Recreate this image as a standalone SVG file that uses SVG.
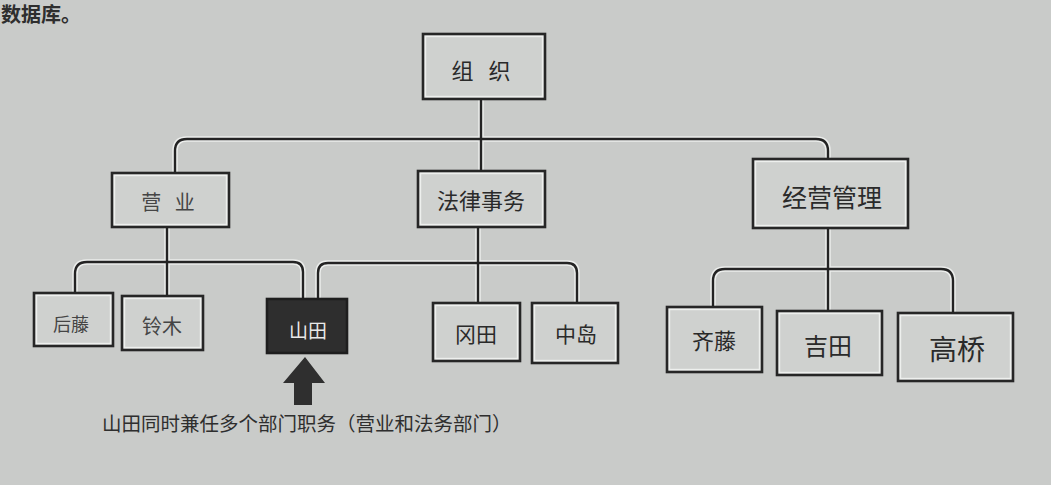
<svg xmlns="http://www.w3.org/2000/svg" width="1051" height="485" viewBox="0 0 1051 485">
<style>
.bg{fill:#c9cbc9}
.box{fill:#cfd1cf;stroke:#262626;stroke-width:2.6}
.inner{fill:none;stroke:#eef0ee;stroke-width:1.4}
.dark{fill:#2e2e2e;stroke:#1e1e1e;stroke-width:2.6}
.halo{fill:none;stroke:#eceeec;stroke-width:5.5;stroke-linejoin:round}
.line{fill:none;stroke:#232323;stroke-width:2.4;stroke-linejoin:round}
.t{font-family:"Noto Sans CJK SC","Noto Sans",sans-serif;fill:#2a2a2a;text-anchor:middle;dominant-baseline:central}
.tl{fill:#454545}
.tw{fill:#e8e8e8}
.cap{font-family:"Noto Sans CJK SC","Noto Sans",sans-serif;fill:#2e2e2e}
</style>
<rect class="bg" x="0" y="0" width="1051" height="485"/>
<text class="cap" x="1" y="22" font-size="20" font-weight="bold">数据库。</text>

<g id="connectors">
  <path class="halo" d="M481 99 V171 M175 173 V151 Q175 139 187 139 H816 Q828 139 828 151 V159 M167 227 V296 M75 293 V274 Q75 262 87 262 H293 Q303 262 303 272 V299 M318 299 V273 Q318 263 328 263 H567 Q577 263 577 273 V303 M478 227 V303 M828 228 V311 M713 307 V281 Q713 269 725 269 H941 Q953 269 953 281 V313"/>
  <path class="line" d="M481 99 V171 M175 173 V151 Q175 139 187 139 H816 Q828 139 828 151 V159 M167 227 V296 M75 293 V274 Q75 262 87 262 H293 Q303 262 303 272 V299 M318 299 V273 Q318 263 328 263 H567 Q577 263 577 273 V303 M478 227 V303 M828 228 V311 M713 307 V281 Q713 269 725 269 H941 Q953 269 953 281 V313"/>
</g>

<g id="node-org">
  <rect class="box" x="423" y="34" width="122" height="65"/>
  <rect class="inner" x="425.5" y="36.5" width="117" height="60"/>
  <text class="t" x="481" y="69" font-size="22" xml:space="preserve">组   织</text>
</g>
<g id="node-eigyo">
  <rect class="box" x="112" y="173" width="117" height="54"/>
  <rect class="inner" x="114.5" y="175.5" width="112" height="49"/>
  <text class="t tl" x="168" y="201" font-size="20" xml:space="preserve">营   业</text>
</g>
<g id="node-legal">
  <rect class="box" x="418" y="171" width="127" height="56"/>
  <rect class="inner" x="420.5" y="173.5" width="122" height="51"/>
  <text class="t" x="481" y="199" font-size="22">法律事务</text>
</g>
<g id="node-mgmt">
  <rect class="box" x="753" y="159" width="155" height="69"/>
  <rect class="inner" x="755.5" y="161.5" width="150" height="64"/>
  <text class="t" x="832" y="196" font-size="25">经营管理</text>
</g>
<g id="node-goto">
  <rect class="box" x="34" y="293" width="79" height="53"/>
  <rect class="inner" x="36.5" y="295.5" width="74" height="48"/>
  <text class="t tl" x="71" y="323" font-size="18">后藤</text>
</g>
<g id="node-suzuki">
  <rect class="box" x="122" y="296" width="81" height="54"/>
  <rect class="inner" x="124.5" y="298.5" width="76" height="49"/>
  <text class="t tl" x="162" y="325" font-size="20">铃木</text>
</g>
<g id="node-yamada">
  <rect class="dark" x="267" y="299" width="80" height="54"/>
  <text class="t tw" x="308" y="329" font-size="19">山田</text>
</g>
<g id="node-okada">
  <rect class="box" x="433" y="303" width="87" height="58"/>
  <rect class="inner" x="435.5" y="305.5" width="82" height="53"/>
  <text class="t" x="476" y="333" font-size="21">冈田</text>
</g>
<g id="node-nakajima">
  <rect class="box" x="532" y="303" width="86" height="60"/>
  <rect class="inner" x="534.5" y="305.5" width="81" height="55"/>
  <text class="t" x="576" y="333" font-size="21">中岛</text>
</g>
<g id="node-saito">
  <rect class="box" x="667" y="307" width="95" height="65"/>
  <rect class="inner" x="669.5" y="309.5" width="90" height="60"/>
  <text class="t" x="714" y="339" font-size="22">齐藤</text>
</g>
<g id="node-yoshida">
  <rect class="box" x="777" y="311" width="105" height="64"/>
  <rect class="inner" x="779.5" y="313.5" width="100" height="59"/>
  <text class="t" x="828" y="344" font-size="24">吉田</text>
</g>
<g id="node-takahashi">
  <rect class="box" x="898" y="313" width="115" height="68"/>
  <rect class="inner" x="900.5" y="315.5" width="110" height="63"/>
  <text class="t" x="957" y="348" font-size="28">高桥</text>
</g>

<g id="arrow">
  <polygon points="305,357 325,383 312,383 312,405 294,405 294,383 283,383" fill="#2f2f2f"/>
</g>
<g id="caption">
  <text class="cap" x="102" y="431" font-size="19.5">山田同时兼任多个部门职务（营业和法务部门）</text>
</g>
</svg>
